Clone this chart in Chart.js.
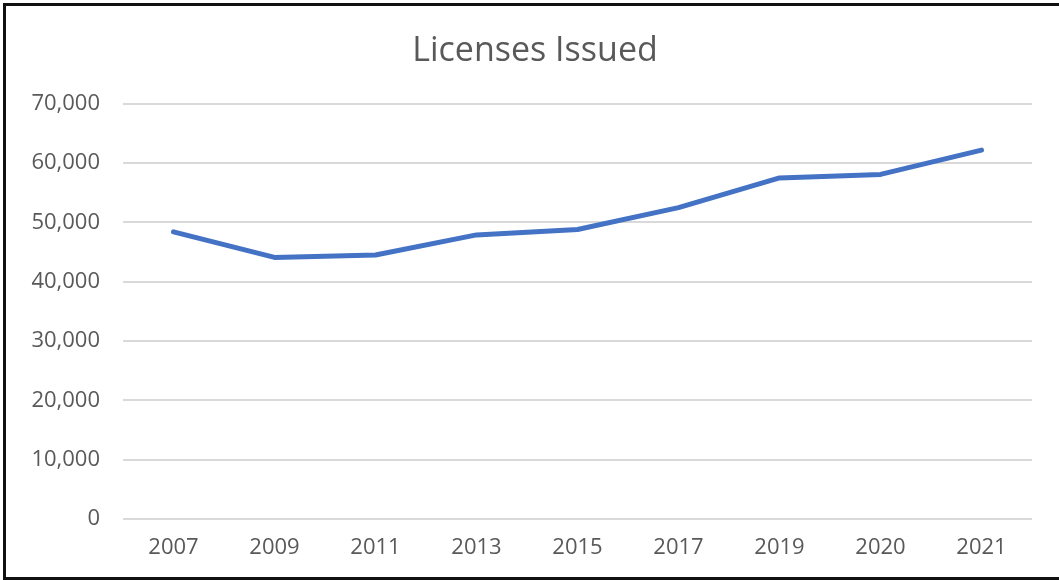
<!DOCTYPE html>
<html>
<head>
<meta charset="utf-8">
<script src="https://cdn.jsdelivr.net/npm/chart.js@4"></script>
<style>
  html, body { margin: 0; padding: 0; background: #fff; overflow: hidden; }
  #wrap { position: relative; width: 1059px; height: 580px; overflow: hidden; }
  #frame {
    position: absolute; left: 3px; top: 3px; width: 1060px; height: 577px;
    box-sizing: border-box; border: 3px solid #111; border-right: none;
    pointer-events: none;
  }
</style>
</head>
<body>
<div id="wrap">
  <canvas id="chart" width="1070" height="580"></canvas>
  <div id="frame"></div>
</div>
<script>
const years = ['2007', '2009', '2011', '2013', '2015', '2017', '2019', '2020', '2021'];
const licenses = [48400, 44100, 44500, 47900, 48800, 52500, 57500, 58100, 62200];
const yTicks = [0, 10000, 20000, 30000, 40000, 50000, 60000, 70000];

const ctx = document.getElementById('chart').getContext('2d');

new Chart(ctx, {
  type: 'line',
  data: {
    labels: years,
    datasets: [{
      label: 'Licenses Issued',
      data: licenses,
      borderColor: '#4472C4',
      borderWidth: 5,
      borderCapStyle: 'round',
      borderJoinStyle: 'round',
      fill: false,
      tension: 0,
      pointRadius: 0
    }]
  },
  options: {
    responsive: false,
    animation: false,
    layout: { padding: { left: 0, right: 0, top: 0, bottom: 19 } },
    plugins: {
      legend: { display: false },
      tooltip: { enabled: false },
      title: {
        display: true,
        text: 'Licenses Issued',
        color: '#595959',
        font: { family: 'Open Sans', size: 34, weight: 'normal' },
        padding: { top: 31, bottom: 32 }
      }
    },
    scales: {
      x: {
        offset: true,
        afterFit: (scale) => { scale.height = 42; },
        grid: { display: false, drawTicks: false },
        border: { display: false },
        ticks: {
          color: '#595959',
          font: { family: 'Open Sans', size: 22 },
          padding: 16,
          maxRotation: 0
        }
      },
      y: {
        min: 0,
        max: 70000,
        afterFit: (scale) => { scale.width = 123; },
        afterBuildTicks: (scale) => { scale.ticks = yTicks.map(v => ({ value: v })); },
        grid: { color: '#d9d9d9', lineWidth: 2, drawTicks: false },
        border: { display: false },
        ticks: {
          color: '#595959',
          font: { family: 'Open Sans', size: 22 },
          padding: 23,
          callback: (v) => v.toLocaleString('en-US')
        }
      },
      // empty spacer on the right so the title sits where the original has it
      spacer: {
        type: 'linear',
        position: 'right',
        afterFit: (scale) => { scale.width = 38; },
        grid: { display: false, drawTicks: false },
        border: { display: false },
        ticks: { display: false }
      }
    }
  }
});
</script>
</body>
</html>
